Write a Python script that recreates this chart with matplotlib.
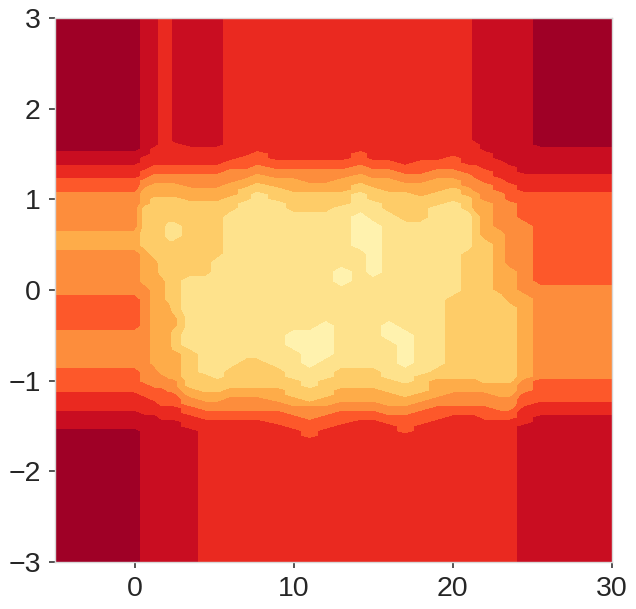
import numpy as np
import matplotlib
matplotlib.use("Agg")
import matplotlib.pyplot as plt

plt.rcParams['font.family'] = ['Liberation Sans', 'DejaVu Sans']

x_values = [-5, 0, 0.7, 1.3, 1.7, 2.2, 2.4, 3.5, 4.5, 5.2, 6, 7, 7.7, 9, 10, 11, 12, 13,
            14.2, 15, 16, 17, 18, 19, 20, 21, 21.4, 22, 23, 23.5, 24.5, 25.5, 30]
y_values = [3.0, 1.9, 1.8, 1.7,
            1.65, 1.6, 1.55, 1.5, 1.45, 1.4, 1.35, 1.3, 1.25, 1.2, 1.15, 1.1, 1.05, 1.0, 0.95,
            0.9, 0.8, 0.7, 0.6, 0.5, 0.4, 0.3, 0.2, 0.1, 0.0,
            -0.1, -0.2, -0.3, -0.4, -0.5, -0.6, -0.7, -0.8, -0.9,
            -0.95, -1.0, -1.05, -1.1, -1.15, -1.2, -1.25, -1.3, -1.35, -1.4, -1.45, -1.5, -1.55, -1.6, -1.65,
            -1.7, -1.8, -1.9, -3.0]
# one string per x value, top to bottom; each digit is a contour band
band_columns = [
    "0000 000111222333444 4445544444 333344443 333322221111000 0000",  # -5
    "0000 000111222333444 4445544444 333344443 333322221111000 0000",  # 0
    "1111 111122233445555 6666655554 444444444 443332222111111 1111",  # 0.7
    "1111 112222334455566 6666665555 555555554 444333222111111 1111",  # 1.3
    "2222 222222334455566 6666666655 555555555 444333322211111 1111",  # 1.7
    "2222 222222334455566 6677666666 655555555 544433322211111 1111",  # 2.2
    "1111 122222334455566 6677666666 665566555 544433322211111 1111",  # 2.4
    "1111 112222334445556 6666666677 777777666 666554433222111 1111",  # 3.5
    "1111 112222334445556 6666666677 777777777 666655443322222 2222",  # 4.5
    "1111 112222334445556 6666667777 777777777 766655443322222 2222",  # 5.2
    "2222 222223344455566 6777777777 777777776 666554443322222 2222",  # 6
    "2222 222233344556667 7777777777 777777766 666554443322222 2222",  # 7
    "2222 222333445566777 7777777777 777777766 666554443322222 2222",  # 7.7
    "2222 222223344556667 7777777777 777777776 666555443332222 2222",  # 9
    "2222 222223344555666 6777777777 777788777 766665544333222 2222",  # 10
    "2222 222223344455666 6777777777 777788887 777666544433332 2222",  # 11
    "2222 222223344455666 6777777777 777888877 766665544333222 2222",  # 12
    "2222 222223344555666 7777777887 777777776 666555443332222 2222",  # 13
    "2222 222333445566777 7888877777 777777776 666555443322222 2222",  # 14.2
    "2222 222223344556667 7788888877 777777776 666555443322222 2222",  # 15
    "2222 222223344555666 6777777777 777887777 766655544332222 2222",  # 16
    "2222 222222334455666 6677777777 777788887 776665544333322 2222",  # 17
    "2222 222223334455566 6677777777 777777777 666655443332222 2222",  # 18
    "2222 222223344555666 7777777777 777777776 655554433322222 2222",  # 19
    "2222 222233344556667 7777777777 666666666 655544433222222 2222",  # 20
    "2222 222222334445566 6777766666 666666666 655544433222222 2222",  # 21
    "1111 122222333444555 5666666666 666666666 655544433222222 2222",  # 21.4
    "1111 111222233344445 5555666666 666666666 665544433322222 2222",  # 22
    "1111 111112222333444 4445555555 666666666 665554443322222 2222",  # 23
    "1111 111111222233334 4444444555 566666666 665554443322222 2222",  # 23.5
    "1111 111111112222333 3344444444 555555555 544433322221111 1111",  # 24.5
    "0000 001111112222333 3333333334 444444444 433333222111111 1111",  # 25.5
    "0000 001111112222333 3333333334 444444444 433333222111111 1111",  # 30
]
band_colors = ['#9f0026', '#c90d21', '#ea2920', '#fd582a', '#fd8d3c',
               '#feac49', '#fecc68', '#fee28c', '#fff2ae']
x_ticks = [0, 10, 20, 30]
y_ticks = [-3, -2, -1, 0, 1, 2, 3]

z = np.array([[int(c) for c in col.replace(' ', '')] for col in band_columns], dtype=float).T

fig = plt.figure(figsize=(6.36, 6.09), dpi=100)
ax = fig.add_axes([55 / 636, 47 / 609, 557 / 636, 544 / 609])
ax.contourf(x_values, y_values, z, levels=np.arange(-0.5, 9.0, 1.0), colors=band_colors)
ax.set_xlim(-5, 30)
ax.set_ylim(-3, 3)
ax.set_xticks(x_ticks)
ax.set_yticks(y_ticks)
ax.tick_params(axis='both', labelsize=20.5, length=4.3, width=1.1, color='#262626',
               labelcolor='#262626', pad=6)
for s in ax.spines.values():
    s.set_color('#d8d8d8')
    s.set_linewidth(1.0)
fig.savefig('out.png', dpi=100)
